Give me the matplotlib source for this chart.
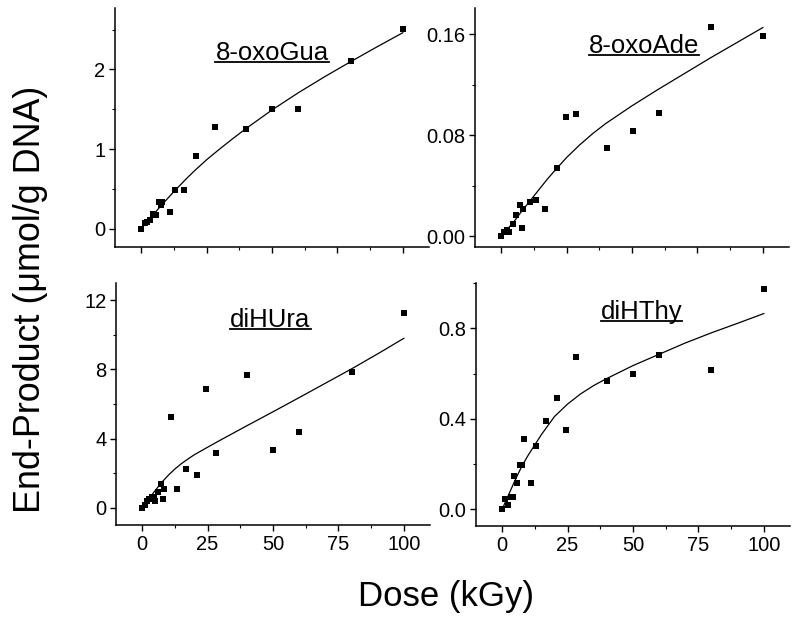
import numpy as np
import matplotlib
matplotlib.use('Agg')
import matplotlib.pyplot as plt
from matplotlib.lines import Line2D
from matplotlib.ticker import MultipleLocator

plt.rcParams['font.family'] = ['Liberation Sans', 'DejaVu Sans']

# measured points (dose in kGy, yield in umol/g DNA)
gua_dose = [0, 1.4, 2.2, 3.2, 4.6, 5.5, 6.9, 8.0, 7.4, 10.9, 13, 16.5, 21, 28.4, 40, 50, 60, 80, 100]
gua_val = [0, 0.07, 0.09, 0.11, 0.19, 0.17, 0.34, 0.34, 0.30, 0.21, 0.49, 0.49, 0.91, 1.28, 1.25, 1.50, 1.50, 2.10, 2.51]

ade_dose = [0, 1.1, 2.2, 3.1, 4.6, 5.7, 7.3, 7.8, 8.5, 11, 13.2, 16.8, 21.4, 24.6, 28.5, 40.3, 50.3, 60.3, 80.2, 100]
ade_val = [0, 0.0035, 0.005, 0.0035, 0.010, 0.0166, 0.025, 0.007, 0.022, 0.027, 0.029, 0.022, 0.054,
           0.095, 0.097, 0.070, 0.0836, 0.098, 0.166, 0.159]

ura_dose = [0, 1.1, 2.0, 2.8, 3.7, 4.6, 5.0, 6.0, 7.1, 7.8, 8.3, 10.9, 13.2, 16.7, 21.1, 24.4, 28.4, 40.1, 50.1, 60, 80, 100]
ura_val = [0, 0.16, 0.41, 0.50, 0.64, 0.64, 0.41, 0.89, 1.39, 0.52, 1.07, 5.27, 1.07, 2.22, 1.88, 6.88,
           3.14, 7.69, 3.33, 4.37, 7.83, 11.29]

thy_dose = [0, 1.0, 2.3, 3.2, 4.3, 4.7, 5.7, 7.0, 7.6, 8.3, 10.9, 13, 16.6, 21.1, 24.4, 28.4, 40.1, 50, 60, 79.9, 100]
thy_val = [0, 0.046, 0.019, 0.055, 0.055, 0.148, 0.115, 0.195, 0.195, 0.31, 0.115, 0.281, 0.392, 0.491,
           0.349, 0.671, 0.565, 0.60, 0.683, 0.617, 0.975]

# fitted curves
fit_dose = [0, 2.5, 5, 7.5, 10, 12.5, 15, 17.5, 20, 25, 30, 35, 40, 50, 60, 70, 80, 90, 100]
gua_fit = [0, 0.095, 0.19, 0.285, 0.375, 0.465, 0.55, 0.635, 0.715, 0.865, 1.0, 1.13, 1.255,
           1.49, 1.705, 1.905, 2.095, 2.28, 2.46]
ade_fit = [0, 0.006, 0.012, 0.019, 0.0255, 0.032, 0.0385, 0.045, 0.051, 0.0625, 0.0725, 0.0815, 0.0895,
           0.1035, 0.1165, 0.129, 0.1415, 0.1535, 0.1655]
ura_fit = [0, 0.5, 1.0, 1.47, 1.88, 2.24, 2.55, 2.82, 3.07, 3.5, 3.92, 4.33, 4.74,
           5.55, 6.37, 7.2, 8.03, 8.9, 9.8]
thy_fit = [0, 0.065, 0.13, 0.19, 0.24, 0.285, 0.33, 0.37, 0.41, 0.465, 0.51, 0.547, 0.578,
           0.635, 0.685, 0.735, 0.78, 0.822, 0.865]

fig = plt.figure(figsize=(8, 6.24), dpi=100)

panels = [
    # name, x, y, fit, rect(px), ylim, major, minor, fmt, title pos
    ('8-oxoGua', gua_dose, gua_val, gua_fit, [115, 8, 429, 247], (-0.23, 2.77), 1, 0.5, '%d', (50, 2.114)),
    ('8-oxoAde', ade_dose, ade_val, ade_fit, [475, 8, 789, 247], (-0.0084, 0.181), 0.08, 0.04, '%.2f', (54.6, 0.1455)),
    ('diHUra', ura_dose, ura_val, ura_fit, [116, 283, 430, 525], (-1, 13), 4, 2, '%d', (49, 10.46)),
    ('diHThy', thy_dose, thy_val, thy_fit, [476, 283, 790, 526], (-0.074, 1.0), 0.4, 0.2, '%.1f', (53.2, 0.843)),
]

titles = []
for i, (name, xs, ys, fit, r, ylim, maj, mnr, fmt, tpos) in enumerate(panels):
    W, H = 800, 624
    ax = fig.add_axes([r[0] / W, 1 - r[3] / H, (r[2] - r[0]) / W, (r[3] - r[1]) / H])
    ax.plot(fit_dose, fit, color='black', lw=0.9)
    ax.plot(xs, ys, 's', color='black', ms=5.0, mew=0)
    ax.set_xlim(-10, 110)
    ax.set_ylim(*ylim)
    ax.spines['top'].set_visible(False)
    ax.spines['right'].set_visible(False)
    for s in ('left', 'bottom'):
        ax.spines[s].set_linewidth(1.1)
    ax.xaxis.set_major_locator(MultipleLocator(25))
    ax.xaxis.set_minor_locator(MultipleLocator(12.5))
    ax.yaxis.set_major_locator(MultipleLocator(maj))
    ax.yaxis.set_minor_locator(MultipleLocator(mnr))
    ax.yaxis.set_major_formatter(plt.FormatStrFormatter(fmt))
    ax.tick_params(which='major', direction='out', length=4, width=1, labelsize=14.5, pad=3)
    ax.tick_params(which='minor', direction='out', length=2.5, width=0.8)
    if i < 2:
        ax.tick_params(axis='x', labelbottom=False)
    t = ax.text(tpos[0], tpos[1], name, ha='center', va='baseline', fontsize=18.5)
    titles.append(t)

fig.text(0.038, 0.52, 'End-Product (\u03bcmol/g DNA)', rotation=90, ha='center', va='center', fontsize=25.8)
fig.text(0.558, 0.044, 'Dose (kGy)', ha='center', va='center', fontsize=25)

# underline the panel titles
fig.canvas.draw()
rend = fig.canvas.get_renderer()
for t in titles:
    bb = t.get_window_extent(rend)
    base = t.axes.transData.transform(t.get_position())[1]
    yline = (base - 2.2) / fig.bbox.height
    fig.add_artist(Line2D([bb.x0 / fig.bbox.width, bb.x1 / fig.bbox.width], [yline, yline],
                          color='black', lw=1.3))

fig.savefig('out.png', dpi=100)
